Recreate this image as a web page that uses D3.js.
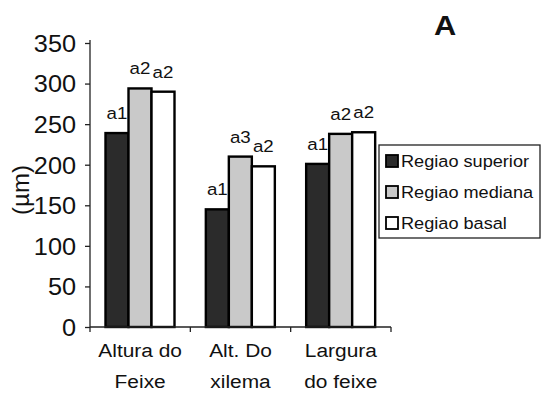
<!DOCTYPE html>
<html>
<head>
<meta charset="utf-8">
<script src="https://d3js.org/d3.v7.min.js"></script>
<style>
body { margin: 0; background: #fff; }
text { font-family: "Liberation Sans", Arial, sans-serif; fill: #111; }
</style>
</head>
<body>
<svg id="chart" width="543" height="395"></svg>
<script>
// data
var categories = [["Altura do", "Feixe"], ["Alt. Do", "xilema"], ["Largura", "do feixe"]];
var seriesNames = ["Regiao superior", "Regiao mediana", "Regiao basal"];
var superior = [239, 145, 201];
var mediana = [294, 210, 238];
var basal = [290, 198, 240];
var letters = [["a1", "a2", "a2"], ["a1", "a3", "a2"], ["a1", "a2", "a2"]];
var yTicks = [0, 50, 100, 150, 200, 250, 300, 350];

var fills = ["#2b2b2b", "#c9c9c9", "#ffffff"];
var sx = 1.1; // horizontal text stretch seen in the scan

var svg = d3.select("#chart");
var plotL = 90, plotR = 391, plotT = 43, plotB = 327;

var x = d3.scaleBand().domain([0, 1, 2]).range([plotL, plotR]).padding(0);
var xs = d3.scaleBand().domain([0, 1, 2]).range([15.5, 84.5]).padding(0);
var y = d3.scaleLinear().domain([0, 350]).range([plotB, plotT]);

var values = [superior, mediana, basal];

// bars
categories.forEach(function (c, i) {
	var g = svg.append("g").attr("transform", "translate(" + x(i) + ",0)");
	values.forEach(function (v, s) {
		g.append("rect")
			.attr("x", xs(s))
			.attr("y", y(v[i]))
			.attr("width", xs.bandwidth())
			.attr("height", y(0) - y(v[i]))
			.style("fill", fills[s])
			.style("stroke", "#000")
			.style("stroke-width", 2.4);
		g.append("text")
			.attr("transform", "translate(" + (xs(s) + xs.bandwidth() / 2) + "," + (y(v[i]) - 14) + ") scale(" + sx + ",1)")
			.attr("text-anchor", "middle")
			.style("font-size", "17px")
			.text(letters[i][s]);
	});
});

// y axis
var yAxis = svg.append("g")
	.attr("transform", "translate(" + plotL + ",0)")
	.call(d3.axisLeft(y).tickValues(yTicks).tickSize(5).tickPadding(9));
yAxis.select(".domain").attr("d", "M0," + (y(350) - 3) + "V" + y(0)).style("stroke", "#222").style("stroke-width", 1.3);
yAxis.selectAll(".tick line").style("stroke", "#222").style("stroke-width", 1.3);
yAxis.selectAll(".tick text")
	.style("font-size", "23px")
	.style("font-family", "'Liberation Sans', Arial, sans-serif")
	.attr("fill", "#111")
	.attr("dy", "0.36em")
	.attr("transform", "scale(" + sx + ",1)")
	.attr("x", -14 / sx);

// x axis
var xAxis = svg.append("g").attr("transform", "translate(0," + plotB + ")");
xAxis.append("line").attr("x1", plotL).attr("x2", plotR).style("stroke", "#222").style("stroke-width", 1.3);
xAxis.selectAll(".xt").data([0, 1, 2, 3]).enter().append("line")
	.attr("x1", function (d) { return d < 3 ? x(d) : plotR; })
	.attr("x2", function (d) { return d < 3 ? x(d) : plotR; })
	.attr("y1", 0).attr("y2", 5)
	.style("stroke", "#222").style("stroke-width", 1.3);

categories.forEach(function (c, i) {
	c.forEach(function (line, k) {
		svg.append("text")
			.attr("transform", "translate(" + (x(i) + x.bandwidth() / 2) + "," + (357 + k * 31) + ") scale(" + sx + ",1)")
			.attr("text-anchor", "middle")
			.style("font-size", "19px")
			.text(line);
	});
});

// y label
svg.append("text")
	.attr("transform", "translate(29,190) rotate(-90)")
	.attr("text-anchor", "middle")
	.style("font-size", "24px")
	.text("(\u00b5m)");

// panel letter
svg.append("text")
	.attr("transform", "translate(445,35) scale(" + sx + ",1)")
	.attr("text-anchor", "middle")
	.style("font-size", "28px")
	.style("font-weight", "bold")
	.text("A");

// legend
var lg = svg.append("g").attr("transform", "translate(379,145)");
lg.append("rect").attr("x", 0).attr("y", 0).attr("width", 161).attr("height", 93)
	.style("fill", "#fff").style("stroke", "#222").style("stroke-width", 1.3);
seriesNames.forEach(function (n, s) {
	var cy = 16 + s * 31;
	lg.append("rect").attr("x", 7).attr("y", cy - 6).attr("width", 12).attr("height", 12)
		.style("fill", fills[s]).style("stroke", "#000").style("stroke-width", 1.8);
	lg.append("text")
		.attr("transform", "translate(22," + (cy + 6) + ") scale(" + sx + ",1)")
		.style("font-size", "16.5px")
		.text(n);
});
</script>
</body>
</html>
